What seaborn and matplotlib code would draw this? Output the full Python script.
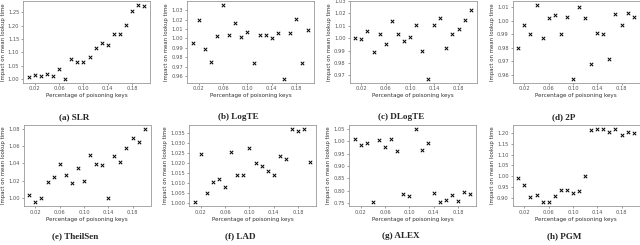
import pandas as pd
import seaborn as sns
import matplotlib.pyplot as plt

# x: fraction of poisoning keys
pct = [0.01, 0.02, 0.03, 0.04, 0.05, 0.06, 0.07, 0.08, 0.09, 0.10,
       0.11, 0.12, 0.13, 0.14, 0.15, 0.16, 0.17, 0.18, 0.19, 0.20]

slr = [1.010, 1.015, 1.011, 1.020, 1.013, 1.039, 1.002, 1.076, 1.065, 1.066,
       1.083, 1.117, 1.137, 1.129, 1.170, 1.170, 1.201, 1.255, 1.278, 1.273]
logte = [0.995, 1.020, 0.989, 0.975, 1.003, 1.036, 1.004, 1.017, 1.002, 1.007,
         0.974, 1.004, 1.004, 1.001, 1.006, 0.957, 1.006, 1.021, 0.974, 1.009]
dlogte = [1.000, 0.999, 1.006, 0.989, 1.003, 0.995, 1.014, 1.003, 0.998, 1.001,
          1.011, 0.990, 0.967, 1.011, 1.016, 0.992, 1.003, 1.007, 1.015, 1.023]
twop = [0.980, 0.997, 0.990, 1.012, 0.987, 1.002, 1.004, 0.990, 1.003, 0.957,
        1.010, 1.002, 0.968, 0.991, 0.990, 0.972, 1.005, 0.997, 1.006, 1.003]
theilsen = [1.004, 0.995, 1.000, 1.018, 1.024, 1.039, 1.026, 1.017, 1.035, 1.020,
            1.050, 1.039, 1.038, 1.000, 1.048, 1.041, 1.058, 1.069, 1.065, 1.080]
lad = [1.0003, 1.0242, 1.0050, 1.0104, 1.0120, 1.0077, 1.0256, 1.0140, 1.0141, 1.0274,
       1.0197, 1.0185, 1.0158, 1.0140, 1.0232, 1.0220, 1.0370, 1.0357, 1.0369, 1.0202]
alex = [1.009, 0.983, 0.991, 0.754, 1.003, 0.976, 1.009, 0.961, 0.786, 0.778,
        1.050, 0.966, 0.991, 0.792, 0.757, 0.763, 0.782, 0.758, 0.797, 0.789]
pgm = [0.991, 0.959, 0.906, 0.912, 0.880, 0.880, 0.908, 0.935, 0.936, 0.923,
       0.932, 1.000, 1.215, 1.216, 1.219, 1.202, 1.219, 1.192, 1.206, 1.201]

series = [slr, logte, dlogte, twop, theilsen, lad, alex, pgm]
captions = ["(a) SLR", "(b) LogTE", "(c) DLogTE", "(d) 2P",
            "(e) TheilSen", "(f) LAD", "(g) ALEX", "(h) PGM"]
xticks = [0.02, 0.06, 0.10, 0.14, 0.18]
yticks = [
    [1.00, 1.05, 1.10, 1.15, 1.20, 1.25],
    [0.96, 0.97, 0.98, 0.99, 1.00, 1.01, 1.02, 1.03],
    [0.97, 0.98, 0.99, 1.00, 1.01, 1.02, 1.03],
    [0.96, 0.97, 0.98, 0.99, 1.00, 1.01],
    [1.00, 1.02, 1.04, 1.06, 1.08],
    [1.000, 1.005, 1.010, 1.015, 1.020, 1.025, 1.030, 1.035],
    [0.75, 0.80, 0.85, 0.90, 0.95, 1.00, 1.05],
    [0.90, 0.95, 1.00, 1.05, 1.10, 1.15, 1.20],
]
yfmt = ["%.2f"] * 5 + ["%.3f"] + ["%.2f"] * 2

sns.set_theme(style="white", rc={"axes.edgecolor": "#999999", "axes.linewidth": 0.6})
plt.rcParams["font.family"] = ["DejaVu Sans"]

W, H = 640, 245
fig = plt.figure(figsize=(6.4, 2.45), dpi=100)

# layout in pixels
lefts = [23, 187, 349.5, 512.5, 23.5, 189, 349, 512.5]
ax_w = 127
rows = [(1, 82.5), (125, 206)]  # top, bottom in px
cap_y = [117, 236]

for i, (vals, cap) in enumerate(zip(series, captions)):
    r = i // 4
    top, bot = rows[r]
    ax = fig.add_axes([lefts[i] / W, 1 - bot / H, ax_w / W, (bot - top) / H])
    df = pd.DataFrame({"pct": pct, "impact": vals})
    sns.scatterplot(data=df, x="pct", y="impact", ax=ax, marker="x",
                    color="black", s=6, linewidth=0.7)
    ax.set_xticks(xticks)
    ax.set_xticklabels(["%.2f" % t for t in xticks])
    ax.set_yticks(yticks[i])
    ax.set_yticklabels([yfmt[i] % t for t in yticks[i]])
    ax.tick_params(axis="both", labelsize=3.7, colors="#555555", length=1.5,
                   width=0.4, pad=1.2, direction="out")
    ax.tick_params(left=True, bottom=True)
    ax.set_xlabel("Percentage of poisoning keys", fontsize=4.1, color="#333333", labelpad=1.5)
    ax.set_ylabel("Impact on mean lookup time", fontsize=3.85, color="#333333", labelpad=1.5)
    cx = (lefts[i] + ax_w / 2 - 12) / W
    fig.text(cx, 1 - cap_y[r] / H, cap, ha="center", va="center", fontsize=6.6,
             family=["Liberation Serif", "DejaVu Serif"], weight="bold")

fig.savefig("out.png", dpi=100)
